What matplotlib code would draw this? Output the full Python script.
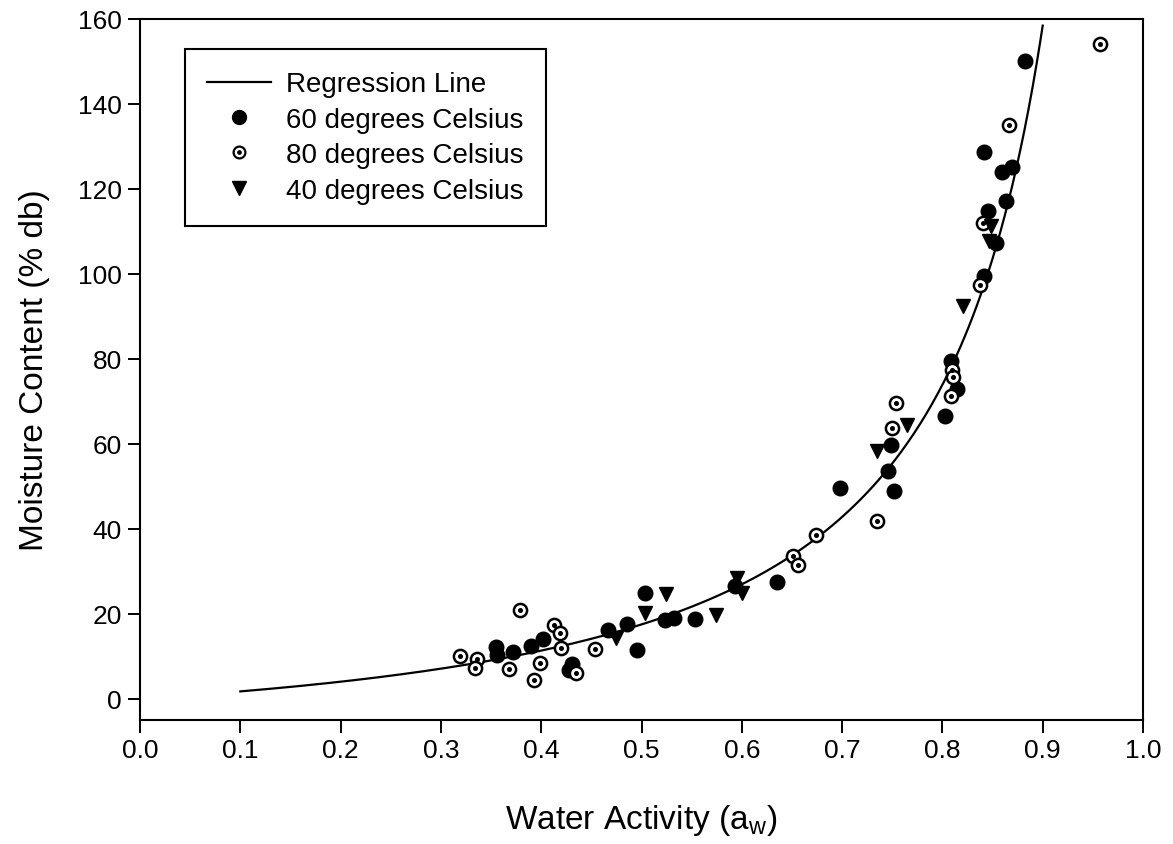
import numpy as np
import matplotlib
matplotlib.use("Agg")
import matplotlib.pyplot as plt
from matplotlib.lines import Line2D

plt.rcParams['font.family'] = ['Liberation Sans', 'DejaVu Sans']
plt.rcParams['mathtext.fontset'] = 'custom'
plt.rcParams['mathtext.rm'] = 'Liberation Sans'
plt.rcParams['mathtext.it'] = 'Liberation Sans'

# 60 degrees Celsius (filled circles)
aw60 = [0.355, 0.356, 0.372, 0.390, 0.402, 0.431, 0.428, 0.467, 0.486, 0.503,
        0.496, 0.523, 0.532, 0.553, 0.593, 0.635, 0.698, 0.746, 0.752, 0.749,
        0.803, 0.809, 0.815, 0.841, 0.845, 0.853, 0.863, 0.859, 0.869, 0.841, 0.882]
m60 = [12.2, 10.4, 11.0, 12.5, 14.0, 8.2, 6.8, 16.2, 17.6, 24.8,
       11.4, 18.5, 18.9, 18.7, 26.5, 27.5, 49.7, 53.6, 48.9, 59.7,
       66.6, 79.5, 72.8, 99.5, 114.8, 107.2, 117.2, 124.1, 125.2, 128.6, 150.0]

# 80 degrees Celsius (circle with dot)
aw80 = [0.319, 0.336, 0.334, 0.368, 0.379, 0.393, 0.399, 0.413, 0.419, 0.420,
        0.435, 0.454, 0.651, 0.656, 0.674, 0.735, 0.750, 0.754, 0.810, 0.811,
        0.809, 0.837, 0.840, 0.866, 0.957]
m80 = [10.0, 9.4, 7.3, 7.1, 20.9, 4.4, 8.5, 17.3, 15.5, 12.0,
       6.1, 11.8, 33.7, 31.6, 38.5, 41.9, 63.8, 69.5, 77.4, 75.7,
       71.3, 97.3, 111.9, 135.0, 154.1]

# 40 degrees Celsius (down triangles)
aw40 = [0.475, 0.503, 0.524, 0.574, 0.595, 0.600, 0.735, 0.765, 0.821, 0.848, 0.846]
m40 = [14.2, 20.3, 24.6, 19.6, 28.5, 25.0, 58.3, 64.4, 92.5, 111.3, 107.8]

# Regression line (GAB-type model) parameters
gab_Mo = 22.3
gab_C = 0.694
gab_K = 0.98
aw_line_range = (0.1, 0.9)

x_ticks = [0.0, 0.1, 0.2, 0.3, 0.4, 0.5, 0.6, 0.7, 0.8, 0.9, 1.0]
y_ticks = [0, 20, 40, 60, 80, 100, 120, 140, 160]

fig = plt.figure(figsize=(11.73, 8.45), dpi=100)
ax = fig.add_axes([140/1173, 1 - 721/845, (1143-140)/1173, (721-20)/845])

aw_line = np.linspace(aw_line_range[0], aw_line_range[1], 400)
Ka = gab_K * aw_line
m_line = gab_Mo * gab_C * Ka / ((1 - Ka) * (1 - Ka + gab_C * Ka))
ax.plot(aw_line, m_line, color='black', lw=1.6, zorder=2)

ax.plot(aw60, m60, linestyle='none', marker='o', markersize=10.5,
        markerfacecolor='black', markeredgecolor='black', zorder=3)
ax.plot(aw80, m80, linestyle='none', marker='o', markersize=9.5,
        markerfacecolor='white', markeredgecolor='black', markeredgewidth=1.8, zorder=4)
ax.plot(aw80, m80, linestyle='none', marker='o', markersize=2.6,
        markerfacecolor='black', markeredgecolor='black', zorder=4)
ax.plot(aw40, m40, linestyle='none', marker='v', markersize=10.5,
        markerfacecolor='black', markeredgecolor='black', zorder=5)

ax.set_xlim(0, 1.0)
ax.set_ylim(-5, 160)
ax.set_xticks(x_ticks)
ax.set_xticklabels([f"{v:.1f}" for v in x_ticks])
ax.set_yticks(y_ticks)
ax.tick_params(direction='out', length=9, width=1.4, labelsize=19, pad=4)
for s in ax.spines.values():
    s.set_linewidth(1.5)

ax.set_xlabel('Water Activity (a$_{\\rm w}$)', fontsize=24, labelpad=29)
ax.set_ylabel('Moisture Content (% db)', fontsize=24, labelpad=20)

h_line = Line2D([], [], color='black', lw=1.6)
h60 = Line2D([], [], linestyle='none', marker='o', markersize=10,
             markerfacecolor='black', markeredgecolor='black')
h80a = Line2D([], [], linestyle='none', marker='o', markersize=8.5,
              markerfacecolor='white', markeredgecolor='black', markeredgewidth=1.6)
h80b = Line2D([], [], linestyle='none', marker='o', markersize=2.4,
              markerfacecolor='black', markeredgecolor='black')
h40 = Line2D([], [], linestyle='none', marker='v', markersize=10,
             markerfacecolor='black', markeredgecolor='black')
leg = ax.legend([h_line, h60, (h80a, h80b), h40],
                ['Regression Line', '60 degrees Celsius', '80 degrees Celsius', '40 degrees Celsius'],
                loc='upper left', bbox_to_anchor=((185-140)/1003, (721-50)/701),
                borderaxespad=0, fontsize=20, frameon=True, fancybox=False,
                edgecolor='black', framealpha=1, handlelength=2.3, handletextpad=0.55,
                labelspacing=0.34, borderpad=0.8)
leg.get_frame().set_linewidth(1.5)

fig.savefig('out.png', dpi=100)
